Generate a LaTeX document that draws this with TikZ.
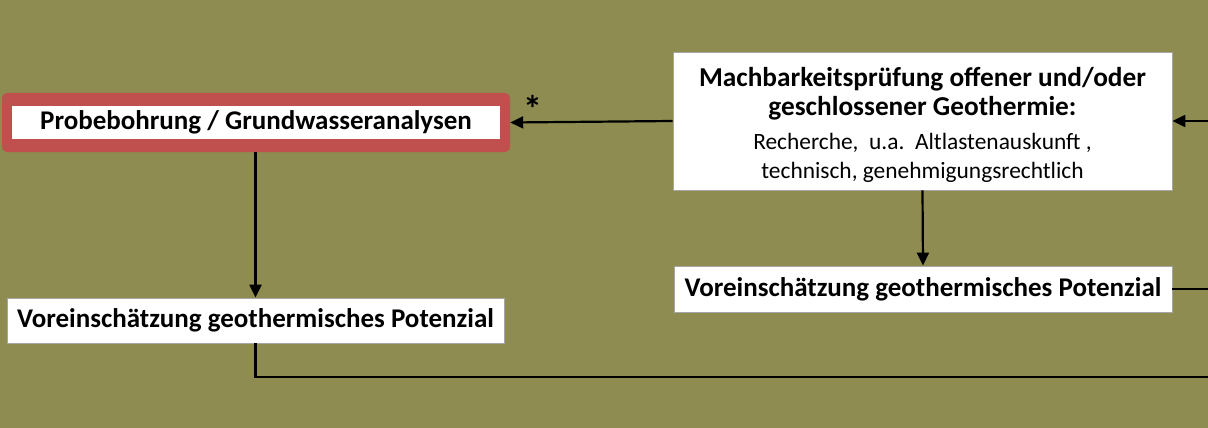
\documentclass[tikz,border=0pt]{standalone}
\usepackage{fontspec}
\setmainfont{Carlito}
\usetikzlibrary{arrows.meta}
\definecolor{bgolive}{HTML}{8E8C50}
\definecolor{boxred}{HTML}{C0504D}
\definecolor{boxgray}{HTML}{A6A6A6}
\tikzset{
  wbox/.style={draw=boxgray, line width=0.8pt, fill=white, inner sep=0pt, align=center},
  conn/.style={line width=2.2pt, draw=black},
  arr/.style={conn, -{Triangle[length=13pt,width=12pt]}},
  boldtxt/.style={font=\fontsize{27}{29}\selectfont\bfseries},
}
\begin{document}
\begin{tikzpicture}[x=1pt, y=-1pt]
\fill[bgolive] (0,0) rectangle (1208,428);
\useasboundingbox (0,0) rectangle (1208,428);

% red framed box
\node[fill=boxred, rounded corners=5pt, minimum width=508pt, minimum height=59pt, inner sep=0pt] (probe) at (256,122.5) {};
\node[wbox, draw=none, minimum width=488pt, minimum height=33pt, boldtxt] (probetxt) at (256,122.5) {Probebohrung / Grundwasseranalysen};

% Machbarkeit box
\node[wbox, minimum width=499pt, minimum height=138pt] (mach) at (922.5,121) {};
\node[align=center, inner sep=0pt, font=\fontsize{27.3}{29}\selectfont\bfseries] (machtxt) at (922.5,125)
  {Machbarkeitsprüfung offener und/oder\\
   geschlossener Geothermie:\\[5pt]
   \fontsize{23.4}{28}\selectfont\mdseries Recherche,\ \ u.a.\ \ Altlastenauskunft ,\\
   \fontsize{23.4}{28}\selectfont\mdseries technisch, genehmigungsrechtlich};

% Voreinschaetzung boxes
\node[wbox, minimum width=498pt, minimum height=46pt, boldtxt] (rvor) at (923,289) {Voreinschätzung geothermisches Potenzial};
\node[wbox, minimum width=497pt, minimum height=45pt, boldtxt] (lvor) at (255.5,320.5) {Voreinschätzung geothermisches Potenzial};

% star
\node[font=\fontsize{38}{40}\selectfont\bfseries, inner sep=0pt] (star) at (533,109) {*};

% connectors
\coordinate (rin) at (1208,121);
\coordinate (rout) at (1208,289);
\coordinate (bend) at (255.5,377);
\coordinate (bout) at (1208,377);

\draw[arr] (mach.west) -- (probe.east);
\draw[arr] (rin) -- (mach.east);
\draw[arr] (mach.south) -- (rvor.north);
\draw[conn] (rvor.east) -- (rout);
\draw[arr] (probe.south -| lvor.north) -- (lvor.north);
\draw[conn] (lvor.south) -- (bend) -- (bout);
\end{tikzpicture}
\end{document}
